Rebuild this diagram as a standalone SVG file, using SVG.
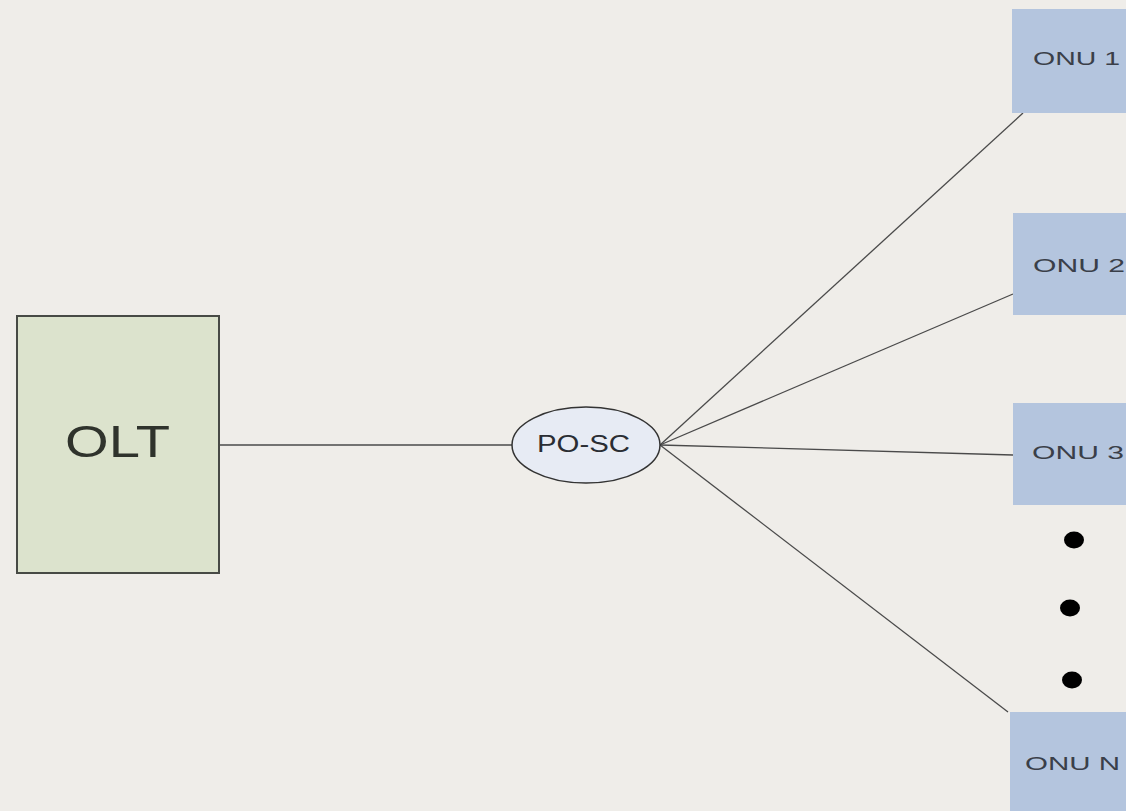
<svg xmlns="http://www.w3.org/2000/svg" width="1126" height="811" viewBox="0 0 1126 811">
<style>
.onu{fill:#b4c5de;stroke:none}
.onut{font-family:"Liberation Sans",Arial,sans-serif;font-size:19px;fill:#3a3f49}
.link{stroke:#4a4a4a;stroke-width:1.3;fill:none}
.dot{fill:#000}
</style>
<rect width="1126" height="811" fill="#efede9"/>
<g id="connectors">
<line class="link" x1="220" y1="445" x2="512" y2="445"/>
<line class="link" x1="660" y1="445" x2="1023" y2="113"/>
<line class="link" x1="660" y1="445" x2="1013" y2="294"/>
<line class="link" x1="660" y1="445" x2="1013" y2="455"/>
<line class="link" x1="660" y1="445" x2="1008" y2="712"/>
</g>
<g id="olt">
<rect x="17" y="316" width="202" height="257" fill="#dce3cd" stroke="#474a45" stroke-width="2"/>
<text x="65" y="457" font-family="Liberation Sans,Arial,sans-serif" font-size="44" fill="#2f332c" textLength="105" lengthAdjust="spacingAndGlyphs">OLT</text>
</g>
<g id="posc">
<ellipse cx="586" cy="445" rx="74" ry="38" fill="#e7ebf4" stroke="#333" stroke-width="1.5"/>
<text x="537" y="452" font-family="Liberation Sans,Arial,sans-serif" font-size="23" fill="#2a2d33" textLength="93" lengthAdjust="spacingAndGlyphs">PO-SC</text>
</g>
<g id="onu1">
<rect class="onu" x="1012" y="9" width="114" height="104"/>
<text class="onut" x="1033" y="65" textLength="87" lengthAdjust="spacingAndGlyphs">ONU 1</text>
</g>
<g id="onu2">
<rect class="onu" x="1013" y="213" width="113" height="102"/>
<text class="onut" x="1033" y="272" textLength="92" lengthAdjust="spacingAndGlyphs">ONU 2</text>
</g>
<g id="onu3">
<rect class="onu" x="1013" y="403" width="113" height="102"/>
<text class="onut" x="1032" y="459" textLength="92" lengthAdjust="spacingAndGlyphs">ONU 3</text>
</g>
<g id="dots">
<ellipse class="dot" cx="1074" cy="540" rx="10" ry="8.5"/>
<ellipse class="dot" cx="1070" cy="608" rx="10" ry="8.5"/>
<ellipse class="dot" cx="1072" cy="680" rx="10" ry="8.5"/>
</g>
<g id="onuN">
<rect class="onu" x="1010" y="712" width="116" height="99"/>
<text class="onut" x="1025" y="770" textLength="95" lengthAdjust="spacingAndGlyphs">ONU N</text>
</g>
</svg>
